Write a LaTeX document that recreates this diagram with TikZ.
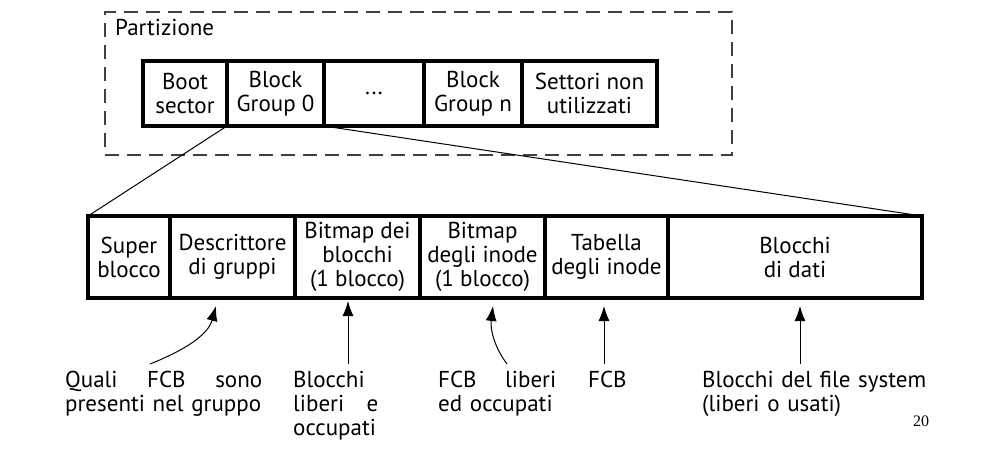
\documentclass[tikz,border=0pt]{standalone}
\usepackage{fontspec}
\setmainfont{PT Sans}
\newfontfamily\serifnum{Liberation Serif}
\usetikzlibrary{arrows.meta}
\begin{document}
\begin{tikzpicture}[x=1pt,y=-1pt,
  cell/.style={draw, line width=3.2pt, inner sep=0pt, outer sep=0pt, align=center, font=\fontsize{23}{24}\selectfont},
  lbl/.style={inner sep=0pt, anchor=base west, align=left, font=\fontsize{23}{24}\selectfont},
  arr/.style={line width=1pt, -{Latex[length=15pt,width=11pt]}},
  link/.style={line width=1pt},
  frame/.style={draw=black!75, line width=1.2pt, dash pattern=on 14pt off 8pt, inner sep=0pt, outer sep=0pt}]
\useasboundingbox (0,0) rectangle (982,450);
% partition frame
\node[frame, minimum width=627pt, minimum height=143pt] (part) at (418.5,83.5) {};
\node[lbl] (ptitle) at (115,35) {Partizione};
% top row
\node[cell, minimum width=84pt, minimum height=65pt] (boot) at (185,93.5) {Boot\\sector};
\node[cell, minimum width=97pt, minimum height=65pt] (bg0) at (275.5,93.5) {Block\\Group 0};
\node[cell, minimum width=100pt, minimum height=65pt] (dots) at (374,93.5) {...};
\node[cell, minimum width=98pt, minimum height=65pt] (bgn) at (473,93.5) {Block\\Group n};
\node[cell, minimum width=135pt, minimum height=65pt] (sett) at (589.5,93.5) {Settori non\\utilizzati};
% bottom row
\node[cell, minimum width=82pt, minimum height=82pt] (super) at (129,257) {Super\\blocco};
\node[cell, minimum width=125pt, minimum height=82pt] (descr) at (232.5,257) {Descrittore\\di gruppi};
\node[cell, minimum width=125pt, minimum height=82pt] (bmb) at (357.5,257) {Bitmap dei\\blocchi\\(1 blocco)};
\node[cell, minimum width=125pt, minimum height=82pt] (bmi) at (482.5,257) {Bitmap\\degli inode\\(1 blocco)};
\node[cell, minimum width=123pt, minimum height=82pt] (tab) at (606.5,257) {Tabella\\degli inode};
\node[cell, minimum width=254pt, minimum height=82pt] (dati) at (795,257) {Blocchi\\di dati};
% zoom lines
\draw[link] (bg0.south west) -- (super.north west);
\draw[link] (dots.south west) -- (dati.north east);
% labels
\node[lbl, text width=197pt] (l1) at (65,387) {Quali\hfill FCB\hfill sono\\presenti nel gruppo};
\node[lbl, text width=85pt] (l2) at (293,387) {Blocchi\\liberi\hfill e\\occupati};
\node[lbl, text width=118pt] (l3) at (438,387) {FCB\hfill liberi\\ed occupati};
\node[lbl] (l4) at (588,387) {FCB};
\node[lbl, text width=230pt] (l5) at (702,387) {Blocchi del file system\\(liberi o usati)};
\node[inner sep=0pt, anchor=base west, font=\serifnum\fontsize{16}{18}\selectfont] (pg) at (913,426) {20};
% arrows
\coordinate (t1) at (150,364); \coordinate (h1) at (216,306);
\coordinate (t2) at (348,364); \coordinate (h2) at (348,301);
\coordinate (t3) at (507,364); \coordinate (h3) at (493,306);
\coordinate (t4) at (604,364); \coordinate (h4) at (604,306);
\coordinate (t5) at (800,364); \coordinate (h5) at (800,306);
\draw[arr] (t1) .. controls (185,350) and (208,335) .. (h1);
\draw[arr] (t2) -- (h2);
\draw[arr] (t3) .. controls (495,348) and (490,330) .. (h3);
\draw[arr] (t4) -- (h4);
\draw[arr] (t5) -- (h5);
\end{tikzpicture}
\end{document}
